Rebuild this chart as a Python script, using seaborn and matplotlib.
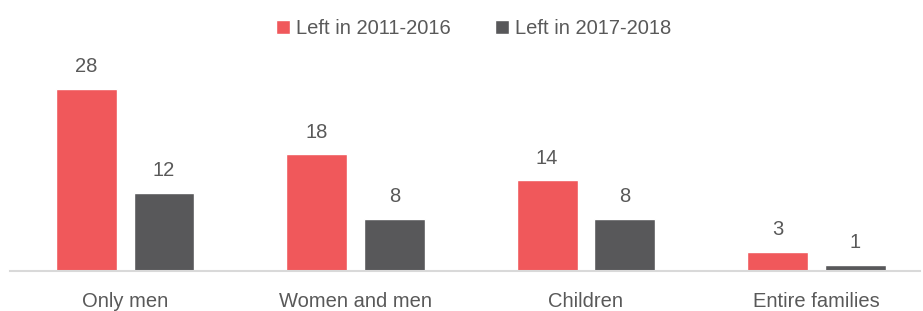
import pandas as pd
import numpy as np
import seaborn as sns
import matplotlib.pyplot as plt

# Data
categories = ['Only men', 'Women and men', 'Children', 'Entire families']
left_2011_2016 = [28, 18, 14, 3]
left_2017_2018 = [12, 8, 8, 1]
series = ['Left in 2011-2016', 'Left in 2017-2018']

df = pd.DataFrame({
    'category': categories * 2,
    'value': left_2011_2016 + left_2017_2018,
    'period': [series[0]] * 4 + [series[1]] * 4,
})

sns.set_style("white")
plt.rcParams['font.family'] = ['Liberation Sans', 'DejaVu Sans']
text_col = '#595959'
fs = 14.5

fig = plt.figure(figsize=(9.23, 3.11), dpi=100)
ax = fig.add_axes([10 / 923, 40 / 311, 910 / 923, 221 / 311])

sns.barplot(data=df, x='category', y='value', hue='period',
            palette=['#F0585B', '#58585A'], width=0.674, gap=0.217,
            saturation=1, ax=ax)

for c in ax.containers:
    ax.bar_label(c, padding=9, fontsize=fs, color=text_col)

ax.set_ylim(0, 34)
ax.set_xlim(-0.5, 3.45)
ax.set_xlabel('')
ax.set_ylabel('')
ax.set_yticks([])
ax.tick_params(axis='x', length=0, pad=15, labelsize=fs, labelcolor=text_col)
for s in ['top', 'right', 'left']:
    ax.spines[s].set_visible(False)
ax.spines['bottom'].set_color('#D9D9D9')
ax.spines['bottom'].set_linewidth(1.5)

leg = ax.legend(loc='upper center', bbox_to_anchor=(0.513, 0.985), bbox_transform=fig.transFigure,
                ncol=2, frameon=False, fontsize=fs, handlelength=0.7, handleheight=0.7,
                handletextpad=0.3, columnspacing=2.2, borderaxespad=0.3)
for t in leg.get_texts():
    t.set_color(text_col)

plt.savefig('out.png', dpi=100)
